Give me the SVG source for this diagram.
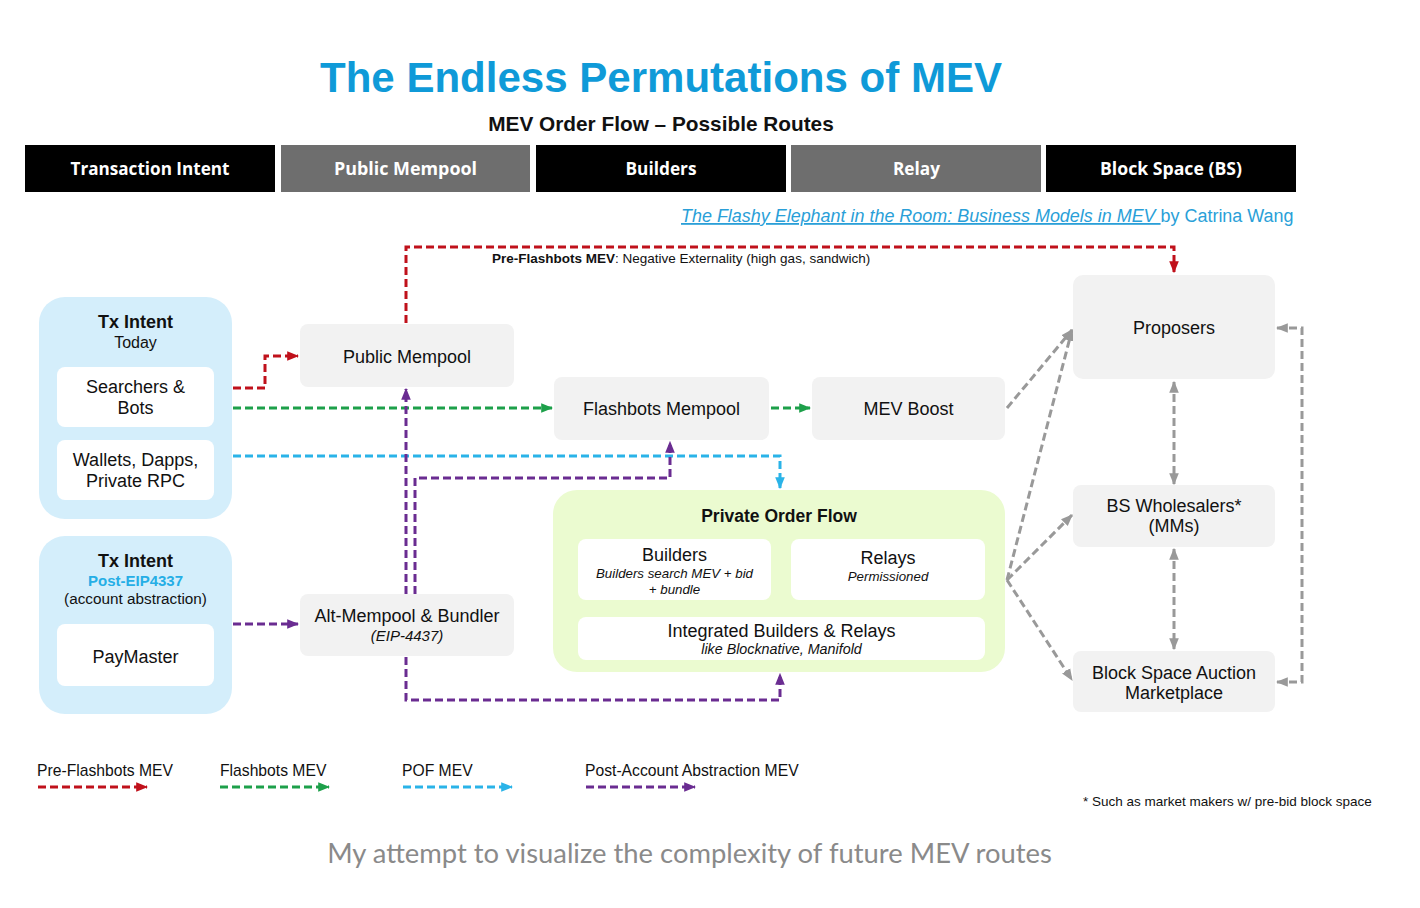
<svg xmlns="http://www.w3.org/2000/svg" width="1420" height="908" viewBox="0 0 1420 908">
<style>
text{font-family:"Liberation Sans",Arial,sans-serif;fill:#111}
.hdr{font-family:"Open Sans","Liberation Sans",sans-serif;font-weight:bold;font-size:18px;fill:#fff}
.box{fill:#f2f2f2}
.wb{fill:#fff}
.c{stroke-width:3;fill:none;stroke-dasharray:8 4}
.r{stroke:#c0111b}.g{stroke:#1da04a}.b{stroke:#2ab3e8}.p{stroke:#6a2c91}.k{stroke:#999}
.lbl{font-size:18px;text-anchor:middle}
.leg{font-size:15.7px}
</style>
<defs>
<marker id="mr" viewBox="0 0 10 10" refX="9" refY="5" markerWidth="12" markerHeight="12" markerUnits="userSpaceOnUse" orient="auto-start-reverse"><path d="M0,1 L10,5 L0,9 z" fill="#c0111b"/></marker>
<marker id="mg" viewBox="0 0 10 10" refX="9" refY="5" markerWidth="12" markerHeight="12" markerUnits="userSpaceOnUse" orient="auto-start-reverse"><path d="M0,1 L10,5 L0,9 z" fill="#1da04a"/></marker>
<marker id="mb" viewBox="0 0 10 10" refX="9" refY="5" markerWidth="12" markerHeight="12" markerUnits="userSpaceOnUse" orient="auto-start-reverse"><path d="M0,1 L10,5 L0,9 z" fill="#2ab3e8"/></marker>
<marker id="mp" viewBox="0 0 10 10" refX="9" refY="5" markerWidth="12" markerHeight="12" markerUnits="userSpaceOnUse" orient="auto-start-reverse"><path d="M0,1 L10,5 L0,9 z" fill="#6a2c91"/></marker>
<marker id="mk" viewBox="0 0 10 10" refX="9" refY="5" markerWidth="12" markerHeight="12" markerUnits="userSpaceOnUse" orient="auto-start-reverse"><path d="M0,1 L10,5 L0,9 z" fill="#999"/></marker>
</defs>
<rect width="1420" height="908" fill="#fff"/>

<g id="title">
<text x="661" y="92" text-anchor="middle" font-size="43" font-weight="bold" style="fill:#0f9ad8" textLength="682" lengthAdjust="spacingAndGlyphs">The Endless Permutations of MEV</text>
<text x="661" y="131" text-anchor="middle" font-size="20.8" font-weight="bold">MEV Order Flow – Possible Routes</text>
</g>

<g id="headers">
<rect x="25" y="145" width="250" height="47" fill="#000"/>
<rect x="281" y="145" width="249" height="47" fill="#6e6e6e"/>
<rect x="536" y="145" width="250" height="47" fill="#000"/>
<rect x="791" y="145" width="250" height="47" fill="#6e6e6e"/>
<rect x="1046" y="145" width="250" height="47" fill="#000"/>
<text class="hdr" x="150" y="175" text-anchor="middle" textLength="159" lengthAdjust="spacingAndGlyphs">Transaction Intent</text>
<text class="hdr" x="405.5" y="175" text-anchor="middle" textLength="143" lengthAdjust="spacingAndGlyphs">Public Mempool</text>
<text class="hdr" x="661" y="175" text-anchor="middle" textLength="71" lengthAdjust="spacingAndGlyphs">Builders</text>
<text class="hdr" x="916.5" y="175" text-anchor="middle" textLength="47" lengthAdjust="spacingAndGlyphs">Relay</text>
<text class="hdr" x="1171" y="175" text-anchor="middle" textLength="142" lengthAdjust="spacingAndGlyphs">Block Space (BS)</text>
</g>

<g id="source">
<text x="681" y="222" font-size="17.95" style="fill:#2a9fd8"><tspan font-style="italic" text-decoration="underline">The Flashy Elephant in the Room: Business Models in MEV </tspan><tspan>by Catrina Wang</tspan></text>
</g>

<g id="connectors">
<path class="c r" d="M406,323 V247 H1174 V272" marker-end="url(#mr)"/>
<path class="c r" d="M233,388 H265 V356 H298" marker-end="url(#mr)"/>
<path class="c g" d="M233,408 H552" marker-end="url(#mg)"/>
<path class="c g" d="M771,408 H810" marker-end="url(#mg)"/>
<path class="c b" d="M233,456 H780 V488" marker-end="url(#mb)"/>
<path class="c p" d="M406,594 V389" marker-end="url(#mp)"/>
<path class="c p" d="M415,594 V478 H670 V442" marker-end="url(#mp)"/>
<path class="c p" d="M406,657 V700 H780 V674" marker-end="url(#mp)"/>
<path class="c p" d="M233,624 H298" marker-end="url(#mp)"/>
<path class="c k" d="M1007,408 L1072,330" marker-end="url(#mk)"/>
<path class="c k" d="M1007,580 L1072,330" marker-end="url(#mk)"/>
<path class="c k" d="M1007,580 L1072,515" marker-end="url(#mk)"/>
<path class="c k" d="M1007,580 L1072,680" marker-end="url(#mk)"/>
<path class="c k" d="M1174,382 V484" marker-start="url(#mk)" marker-end="url(#mk)"/>
<path class="c k" d="M1174,549 V649" marker-start="url(#mk)" marker-end="url(#mk)"/>
<path class="c k" d="M1277,328 H1302 V682 H1277" marker-start="url(#mk)" marker-end="url(#mk)"/>
<text x="492" y="263" font-size="13.5"><tspan font-weight="bold">Pre-Flashbots MEV</tspan>: Negative Externality (high gas, sandwich)</text>
</g>

<g id="tx-intent-today">
<rect x="39" y="297" width="193" height="222" rx="26" fill="#d4eefb"/>
<text x="135.5" y="328" text-anchor="middle" font-size="18" font-weight="bold">Tx Intent</text>
<text x="135.5" y="348" text-anchor="middle" font-size="16">Today</text>
</g>
<g id="searchers-bots">
<rect class="wb" x="57" y="367" width="157" height="60" rx="8"/>
<text class="lbl" x="135.5" y="393">Searchers &amp;</text>
<text class="lbl" x="135.5" y="414">Bots</text>
</g>
<g id="wallets">
<rect class="wb" x="57" y="440" width="157" height="60" rx="8"/>
<text class="lbl" x="135.5" y="466">Wallets, Dapps,</text>
<text class="lbl" x="135.5" y="487">Private RPC</text>
</g>

<g id="tx-intent-post">
<rect x="39" y="536" width="193" height="178" rx="26" fill="#d4eefb"/>
<text x="135.5" y="567" text-anchor="middle" font-size="18" font-weight="bold">Tx Intent</text>
<text x="135.5" y="586" text-anchor="middle" font-size="15" font-weight="bold" style="fill:#25aee6">Post-EIP4337</text>
<text x="135.5" y="604" text-anchor="middle" font-size="15.3">(account abstraction)</text>
</g>
<g id="paymaster">
<rect class="wb" x="57" y="624" width="157" height="62" rx="8"/>
<text class="lbl" x="135.5" y="663">PayMaster</text>
</g>

<g id="public-mempool">
<rect class="box" x="300" y="324" width="214" height="63" rx="8"/>
<text class="lbl" x="407" y="363">Public Mempool</text>
</g>
<g id="alt-mempool">
<rect class="box" x="300" y="594" width="214" height="62" rx="8"/>
<text class="lbl" x="407" y="622">Alt-Mempool &amp; Bundler</text>
<text x="407" y="641" text-anchor="middle" font-size="15" font-style="italic">(EIP-4437)</text>
</g>
<g id="flashbots-mempool">
<rect class="box" x="554" y="377" width="215" height="63" rx="8"/>
<text class="lbl" x="661.5" y="415">Flashbots Mempool</text>
</g>
<g id="mev-boost">
<rect class="box" x="812" y="377" width="193" height="63" rx="8"/>
<text class="lbl" x="908.5" y="415">MEV Boost</text>
</g>

<g id="private-order-flow">
<rect x="553" y="490" width="452" height="182" rx="24" fill="#ebfbd0"/>
<text x="779" y="522" text-anchor="middle" font-size="17.5" font-weight="bold">Private Order Flow</text>
</g>
<g id="pof-builders">
<rect class="wb" x="578" y="539" width="193" height="61" rx="8"/>
<text class="lbl" x="674.5" y="561">Builders</text>
<text x="674.5" y="578" text-anchor="middle" font-size="13.3" font-style="italic">Builders search MEV + bid</text>
<text x="674.5" y="594" text-anchor="middle" font-size="13.3" font-style="italic">+ bundle</text>
</g>
<g id="pof-relays">
<rect class="wb" x="791" y="539" width="194" height="61" rx="8"/>
<text class="lbl" x="888" y="564">Relays</text>
<text x="888" y="581" text-anchor="middle" font-size="13.3" font-style="italic">Permissioned</text>
</g>
<g id="pof-integrated">
<rect class="wb" x="578" y="617" width="407" height="43" rx="8"/>
<text class="lbl" x="781.5" y="637">Integrated Builders &amp; Relays</text>
<text x="781.5" y="654" text-anchor="middle" font-size="14.3" font-style="italic">like Blocknative, Manifold</text>
</g>

<g id="proposers">
<rect class="box" x="1073" y="275" width="202" height="104" rx="10"/>
<text class="lbl" x="1174" y="334">Proposers</text>
</g>
<g id="bs-wholesalers">
<rect class="box" x="1073" y="485" width="202" height="62" rx="8"/>
<text class="lbl" x="1174" y="512">BS Wholesalers*</text>
<text class="lbl" x="1174" y="532">(MMs)</text>
</g>
<g id="bs-auction">
<rect class="box" x="1073" y="651" width="202" height="61" rx="8"/>
<text class="lbl" x="1174" y="679">Block Space Auction</text>
<text class="lbl" x="1174" y="699">Marketplace</text>
</g>

<g id="legend">
<text class="leg" x="37" y="776">Pre-Flashbots MEV</text>
<path class="c r" d="M38,787 H147" marker-end="url(#mr)"/>
<text class="leg" x="220" y="776">Flashbots MEV</text>
<path class="c g" d="M220,787 H329" marker-end="url(#mg)"/>
<text class="leg" x="402" y="776">POF MEV</text>
<path class="c b" d="M403,787 H512" marker-end="url(#mb)"/>
<text class="leg" x="585" y="776">Post-Account Abstraction MEV</text>
<path class="c p" d="M586,787 H695" marker-end="url(#mp)"/>
</g>

<g id="footnote">
<text x="1083" y="806" font-size="13.5">* Such as market makers w/ pre-bid block space</text>
</g>
<g id="caption">
<text x="689.5" y="863" text-anchor="middle" font-size="27.4" style="font-family:Lato,'Liberation Sans',sans-serif;fill:#8a8a8a">My attempt to visualize the complexity of future MEV routes</text>
</g>
</svg>
